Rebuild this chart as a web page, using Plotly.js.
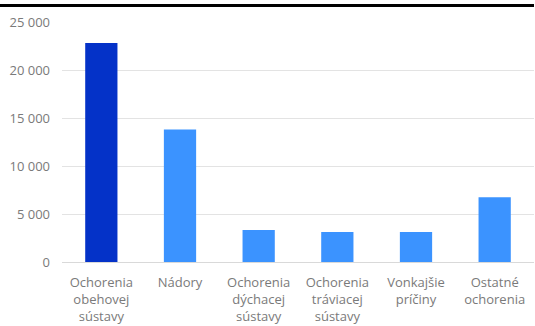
<!DOCTYPE html>
<html>
<head>
<meta charset="utf-8">
<script src="https://cdn.plot.ly/plotly-3.0.1.min.js"></script>
<style>
html,body{margin:0;padding:0;background:#fff;}
#wrap{position:relative;width:535px;height:326px;overflow:hidden;}
#chart{position:absolute;left:0;top:0;width:535px;height:326px;}
#topline{position:absolute;left:0;top:4px;width:534px;height:3px;background:#000;}
</style>
</head>
<body>
<div id="wrap"><div id="chart"></div><div id="topline"></div></div>
<script>
var categories = ["Ochorenia<br>obehovej<br>sústavy", "Nádory", "Ochorenia<br>dýchacej<br>sústavy", "Ochorenia<br>tráviacej<br>sústavy", "Vonkajšie<br>príčiny", "Ostatné<br>ochorenia"];
var deaths = [22800, 13800, 3330, 3120, 3120, 6750];
var barColors = ["#0432c8", "#3b93ff", "#3b93ff", "#3b93ff", "#3b93ff", "#3b93ff"];
var yTickVals = [0, 5000, 10000, 15000, 20000, 25000];
var yTickText = ["0", "5 000", "10 000", "15 000", "20 000", "25 000"];

var trace = {
  type: "bar",
  x: categories,
  y: deaths,
  marker: {color: barColors, line: {width: 0}},
  hoverinfo: "none"
};
var layout = {
  width: 535, height: 326,
  margin: {l: 62, r: 1, t: 22, b: 64, pad: 0},
  paper_bgcolor: "#fff", plot_bgcolor: "#fff",
  bargap: 0.59,
  showlegend: false,
  font: {family: "Open Sans, Noto Sans, sans-serif", size: 13, color: "#7a7a7a"},
  xaxis: {
    type: "category",
    showgrid: false, showline: false, zeroline: false,
    ticks: "", ticklen: 0, ticklabelstandoff: 11,
    tickfont: {size: 13, color: "#7a7a7a"},
    fixedrange: true
  },
  yaxis: {
    range: [0, 25000],
    tickmode: "array", tickvals: yTickVals, ticktext: yTickText,
    showgrid: true, gridcolor: "#e3e3e3", gridwidth: 1,
    zeroline: true, zerolinecolor: "#d9d9d9", zerolinewidth: 1,
    showline: false, ticks: "", ticklabelstandoff: 11,
    tickfont: {size: 13, color: "#7a7a7a"},
    fixedrange: true
  }
};
Plotly.newPlot("chart", [trace], layout, {displayModeBar: false, staticPlot: true});
</script>
</body>
</html>
